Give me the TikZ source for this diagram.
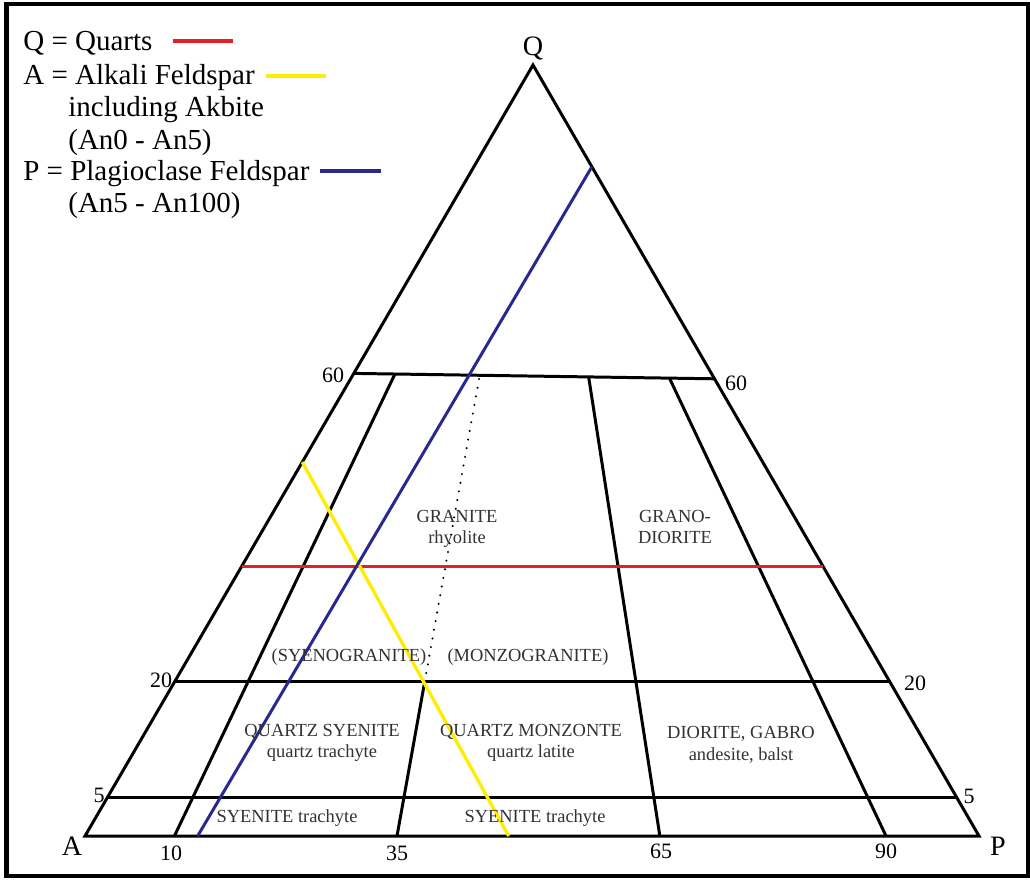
\documentclass[tikz,border=0pt]{standalone}
\usepackage{fontspec}
\setmainfont{Liberation Serif}
\usetikzlibrary{calc}
\definecolor{quartzRed}{RGB}{226,32,40}
\definecolor{alkaliYellow}{RGB}{255,236,0}
\definecolor{plagBlue}{RGB}{40,40,142}
\definecolor{labelGray}{RGB}{50,50,50}

\begin{document}
\begin{tikzpicture}[x=0.02cm,y=-0.02cm,
        edge/.style={line width=1.7pt,line join=miter},
        field/.style={font=\fontsize{10.5}{12.2}\selectfont,align=center,text=labelGray,inner sep=0pt},
        ticklbl/.style={font=\fontsize{12.5}{14}\selectfont,anchor=base,inner sep=0pt},
        cornerlbl/.style={font=\fontsize{16}{18}\selectfont,anchor=base,inner sep=0pt},
        legend/.style={font=\fontsize{16.5}{18}\selectfont,anchor=base west,inner sep=0pt}
    ]
        \useasboundingbox (0,0) rectangle (1030,879);
        \draw[line width=2.5pt] (6.5,4) rectangle (1028.5,876);

        % Corners of the QAP triangle
        \coordinate (A) at (85,836);
        \coordinate (P) at (979,836);
        \coordinate (Q) at (533,65);

        % Quartz levels 60, 20 and 5
        \coordinate (l60) at (barycentric cs:A=0.4,Q=0.6);
        \coordinate (r60) at (barycentric cs:P=0.407,Q=0.593);
        \coordinate (l20) at (barycentric cs:A=0.8,Q=0.2);
        \coordinate (r20) at (barycentric cs:P=0.8,Q=0.2);
        \coordinate (l5) at (barycentric cs:A=0.95,Q=0.05);
        \coordinate (r5) at (barycentric cs:P=0.95,Q=0.05);

        % Feldspar ratio lines 10, 35, 65 and 90
        \coordinate (b10) at (barycentric cs:A=0.9,P=0.1);
        \coordinate (b35) at (barycentric cs:A=0.651,P=0.349);
        \coordinate (b65) at (barycentric cs:A=0.357,P=0.643);
        \coordinate (b90) at (barycentric cs:A=0.104,P=0.896);
        \coordinate (t10) at ($(l60)!0.114!(r60)$);
        \coordinate (t35) at ($(l60)!0.349!(r60)$);
        \coordinate (t65) at ($(l60)!0.651!(r60)$);
        \coordinate (t90) at ($(l60)!0.875!(r60)$);
        \coordinate (m35) at ($(b35)!0.335!(t35)$);

        \draw[edge] (A) -- (P) -- (Q) -- cycle;
        \draw[edge] (l60) -- (r60);
        \draw[edge] (l20) -- (r20);
        \draw[edge] (l5) -- (r5);
        \draw[edge] (b10) -- (t10);
        \draw[edge] (b35) -- (m35);
        \draw[line width=1.3pt,line cap=round,dash pattern=on 0pt off 5pt] (m35) -- (t35);
        \draw[edge] (b65) -- (t65);
        \draw[edge] (b90) -- (t90);

        % Coloured lines
        \coordinate (redL) at (barycentric cs:A=0.65,Q=0.35);
        \coordinate (redR) at (barycentric cs:P=0.65,Q=0.35);
        \coordinate (yelTop) at (barycentric cs:A=0.515,Q=0.485);
        \coordinate (yelBot) at (barycentric cs:A=0.526,P=0.474);
        \coordinate (bluBot) at (barycentric cs:A=0.874,P=0.126);
        \coordinate (bluTop) at (barycentric cs:P=0.132,Q=0.868);
        \draw[quartzRed,line width=1.8pt] (redL) -- (redR);
        \draw[alkaliYellow,line width=1.9pt] (yelTop) -- (yelBot);
        \draw[plagBlue,line width=1.7pt] (bluBot) -- (bluTop);

        % Corner and scale labels
        \node[cornerlbl] (lblQ) at (533,55) {Q};
        \node[cornerlbl] (lblA) at (72,855) {A};
        \node[cornerlbl] (lblP) at (998,855) {P};
        \node[ticklbl] (q60l) at (333,382) {60};
        \node[ticklbl] (q60r) at (736,390) {60};
        \node[ticklbl] (q20l) at (161,687) {20};
        \node[ticklbl] (q20r) at (915,690) {20};
        \node[ticklbl] (q5l) at (99,802) {5};
        \node[ticklbl] (q5r) at (969,803) {5};
        \node[ticklbl] (p10) at (171,860) {10};
        \node[ticklbl] (p35) at (397,860) {35};
        \node[ticklbl] (p65) at (661,858) {65};
        \node[ticklbl] (p90) at (886,858) {90};

        % Rock fields
        \node[field] (granite) at (457,529) {GRANITE\\rhyolite};
        \node[field] (granodiorite) at (675,527) {GRANO-\\DIORITE};
        \node[field] (syenogranite) at (349,657) {(SYENOGRANITE)};
        \node[field] (monzogranite) at (528,657) {(MONZOGRANITE)};
        \node[field] (qsyenite) at (322,743) {QUARTZ SYENITE\\quartz trachyte};
        \node[field] (qmonzonite) at (531,743) {QUARTZ MONZONTE\\quartz latite};
        \node[field] (diorite) at (741,745) {DIORITE, GABRO\\andesite, balst};
        \node[field] (syeniteL) at (287,818) {SYENITE trachyte};
        \node[field] (syeniteR) at (535,818) {SYENITE trachyte};

        % Legend
        \node[legend] (legQ) at (23,50) {Q = Quarts};
        \node[legend] (legA) at (23,84) {A = Alkali Feldspar};
        \node[legend] (legAinc) at (68,116) {including Akbite};
        \node[legend] (legArange) at (68,149) {(An0 - An5)};
        \node[legend] (legP) at (23,180) {P = Plagioclase Feldspar};
        \node[legend] (legPrange) at (68,212) {(An5 - An100)};
        \draw[quartzRed,line width=2.2pt] (173,41) -- (233,41);
        \draw[alkaliYellow,line width=2.2pt] (266,76) -- (326,76);
        \draw[plagBlue,line width=2.2pt] (320,171) -- (381,171);
    \end{tikzpicture}
\end{document}
